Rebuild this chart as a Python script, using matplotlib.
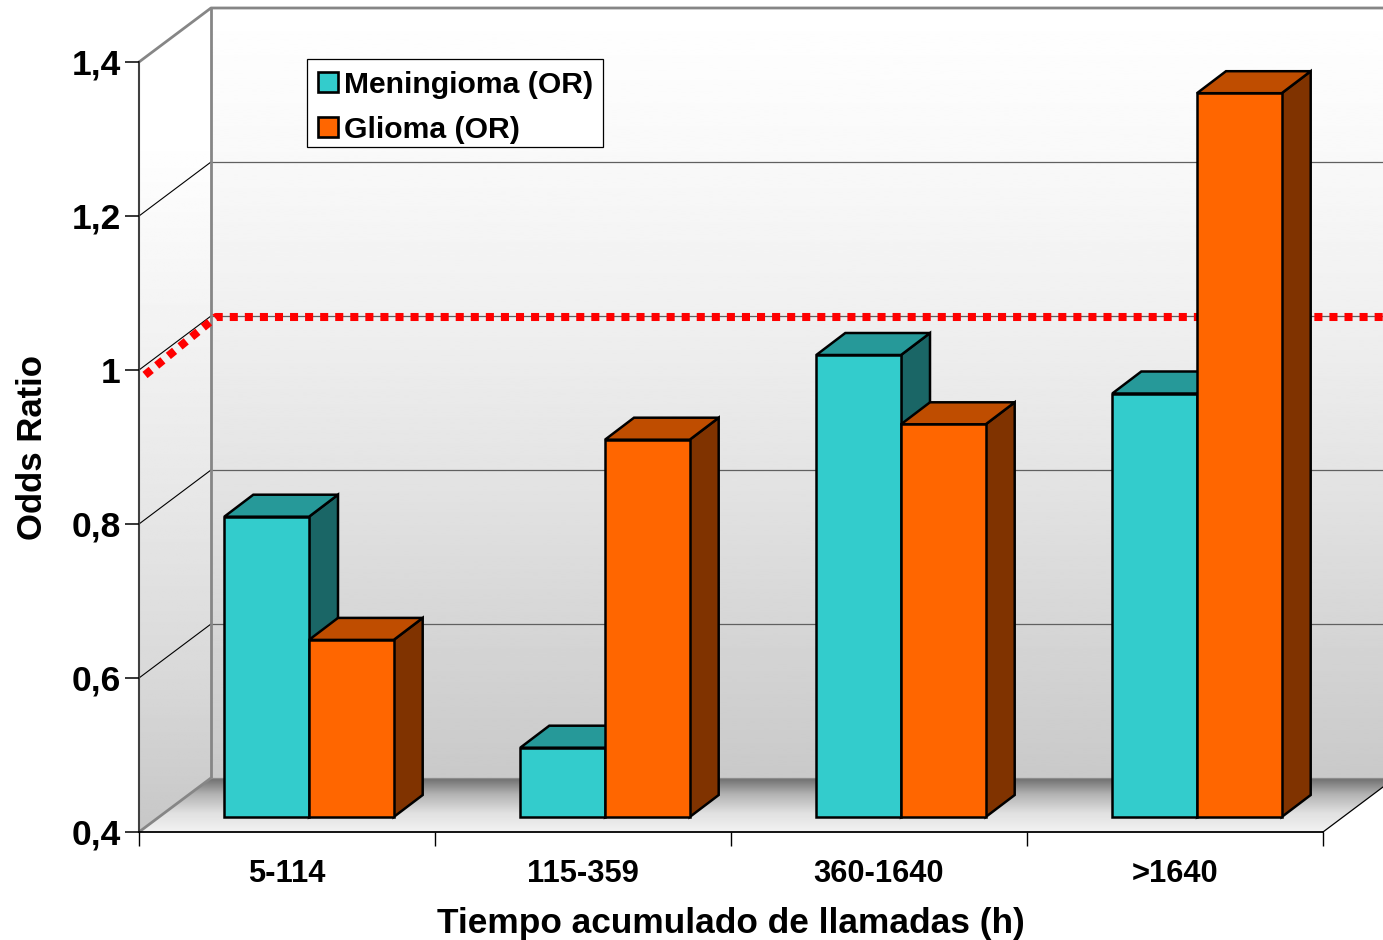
import numpy as np
import matplotlib
matplotlib.use("Agg")
import matplotlib.pyplot as plt
from matplotlib.patches import Polygon, Patch, Rectangle

categories = ["5-114", "115-359", "360-1640", ">1640"]
meningioma = [0.79, 0.49, 1.00, 0.95]
glioma = [0.63, 0.89, 0.91, 1.34]
y_ticks = [0.4, 0.6, 0.8, 1.0, 1.2, 1.4]
y_tick_labels = ["0,4", "0,6", "0,8", "1", "1,2", "1,4"]
reference_or = 1.0
series_names = ["Meningioma (OR)", "Glioma (OR)"]

plt.rcParams["font.family"] = ["Liberation Sans", "DejaVu Sans"]
plt.rcParams["font.weight"] = "bold"

W, H = 1383, 940
fig = plt.figure(figsize=(W / 100, H / 100), dpi=100, facecolor="white")
L, R, T, B = 139, 1323, 62, 832
ax = fig.add_axes([L / W, (H - B) / H, (R - L) / W, (B - T) / H])
PX = 4 / (R - L)            # data x per pixel
PY = 1.0 / (B - T)          # data y per pixel
DX, DY = 72 * PX, 54 * PY   # full depth of the box
y0, y1 = 0.4, 1.4
xr = 4


def gradient(x0, x1, ya, yb, stops_y, stops_v, poly, z):
    ys = np.linspace(yb, ya, 300)
    vals = np.interp(ys, stops_y, stops_v).reshape(-1, 1)
    im = ax.imshow(vals, extent=(x0, x1, ya, yb), origin="upper", aspect="auto",
                   cmap="gray", vmin=0, vmax=1, zorder=z,
                   interpolation="bilinear")
    im.set_clip_box(fig.bbox)
    im.set_clip_path(Polygon(poly, closed=True, transform=ax.transData))


# wall shading (levels of grey by height)
wall_y = [y0 + DY, 0.6 + DY, 0.8 + DY, 1.0 + DY, 1.2 + DY, 1.4 + DY]
wall_v = [0.79, 0.84, 0.895, 0.94, 0.975, 1.0]
gradient(DX, xr + DX, y0 + DY, y1 + DY, wall_y, wall_v,
         [(DX, y0 + DY), (xr + DX, y0 + DY), (xr + DX, y1 + DY), (DX, y1 + DY)], 0.5)
side_y = [y0, 0.6, 0.8, 1.0, 1.2, 1.3, y1 + DY]
side_v = [0.78, 0.85, 0.90, 0.94, 0.98, 1.0, 1.0]
gradient(0, DX, y0, y1 + DY, side_y, side_v,
         [(0, y0), (DX, y0 + DY), (DX, y1 + DY), (0, y1)], 0.5)
floor_y = [y0, y0 + DY * 0.35, y0 + DY * 0.7, y0 + DY]
floor_v = [0.95, 0.88, 0.70, 0.43]
gradient(0, xr + DX, y0, y0 + DY, floor_y, floor_v,
         [(0, y0), (xr, y0), (xr + DX, y0 + DY), (DX, y0 + DY)], 0.6)

# grid on walls
for t in y_ticks[1:-1]:
    ax.plot([DX, xr + DX], [t + DY, t + DY], color="#606060", lw=0.9, zorder=1, clip_on=False)
    ax.plot([0, DX], [t, t + DY], color="black", lw=0.8, zorder=1, clip_on=False)
# box edges
edge = dict(color="#868686", lw=2.0, zorder=1.2, clip_on=False, solid_capstyle="butt")
ax.plot([0, DX, xr + DX], [y1, y1 + DY, y1 + DY], **edge)
ax.plot([DX, DX], [y0 + DY, y1 + DY], **edge)
ax.plot([0, DX], [y0, y0 + DY], **edge)
ax.plot([DX, xr + DX], [y0 + DY, y0 + DY], color="#8c8c8c", lw=0.9, zorder=1.2, clip_on=False)
ax.plot([xr, xr + DX], [y0, y0 + DY], color="black", lw=0.9, zorder=1.2, clip_on=False)

# reference line at OR = 1
ax.plot([6 * PX, DX + 5 * PX, xr + DX],
        [reference_or - 5 * PY, reference_or + DY - 1 * PY, reference_or + DY - 1 * PY],
        color="#ff0000", lw=5.8, linestyle=(0, (1, 0.87)), dash_capstyle="butt",
        zorder=2, clip_on=False)

# bars
BW = 84.7 * PX
SX = 22 * PX       # offset of the front of the bars
SY = 15 * PY
BDX, BDY = 29 * PX, 22 * PY
styles = [("#33CCCC", "#269999", "#1A6666"), ("#FF6600", "#BF4D00", "#803300")]
LW = 1.8
for i in range(len(categories)):
    for s, vals in enumerate([meningioma, glioma]):
        front, top, side = styles[s]
        z = 3 + i + s * 0.5
        xl = i + 0.5 + SX - BW + s * BW
        yb = y0 + SY
        yt = vals[i] + SY
        ax.fill([xl + BW, xl + BW + BDX, xl + BW + BDX, xl + BW],
                [yb, yb + BDY, yt + BDY, yt], facecolor=side, edgecolor="black",
                lw=LW, zorder=z, clip_on=False, joinstyle="miter")
        ax.fill([xl, xl + BDX, xl + BW + BDX, xl + BW],
                [yt, yt + BDY, yt + BDY, yt], facecolor=top, edgecolor="black",
                lw=LW, zorder=z, clip_on=False, joinstyle="miter")
        ax.bar(xl, vals[i] - y0, bottom=yb, width=BW, align="edge", color=front,
               edgecolor="black", linewidth=LW, zorder=z + 0.1, clip_on=False)

ax.set_xlim(0, xr)
ax.set_ylim(y0, y1)
ax.patch.set_visible(False)
for sp in ["top", "right"]:
    ax.spines[sp].set_visible(False)
ax.spines["left"].set_color("#404040")
ax.spines["left"].set_linewidth(1.5)
ax.spines["bottom"].set_linewidth(1.3)
ax.spines["left"].set_zorder(1.3)
ax.spines["bottom"].set_zorder(1.3)

ax.set_yticks(y_ticks)
ax.set_yticklabels(y_tick_labels, fontsize=25.5, fontweight="bold")
ax.tick_params(axis="y", length=10, width=1.1, pad=3)
ax.set_xticks(range(len(categories) + 1))
ax.set_xticklabels([])
ax.set_xticks(np.arange(len(categories)) + 0.5, minor=True)
ax.set_xticklabels(categories, minor=True, fontsize=22.2, fontweight="bold")
ax.tick_params(axis="x", which="major", length=10, width=1.0)
ax.tick_params(axis="x", which="minor", length=0, pad=19.5)

ax.set_xlabel("Tiempo acumulado de llamadas (h)", fontsize=25.4, fontweight="bold", va="center")
ax.xaxis.set_label_coords(0.5, -(923 - B) / (B - T))
ax.set_ylabel("Odds Ratio", fontsize=25, fontweight="bold", va="center")
ax.yaxis.set_label_coords(-(L - 33) / (R - L), 0.5)

# legend frame
ax.add_patch(Rectangle((307 / W, (H - 147) / H), (603 - 307) / W, (147 - 59) / H,
                       transform=fig.transFigure, facecolor="white", edgecolor="black",
                       lw=0.9, zorder=19, clip_on=False))
handles = [Patch(facecolor=styles[k][0], edgecolor="black", linewidth=1.9) for k in range(2)]
leg = ax.legend(handles, series_names, loc="upper left",
                bbox_to_anchor=((308 - L) / (R - L), 1 - (61 - T) / (B - T)),
                fontsize=21.7, frameon=False, borderpad=0.32, borderaxespad=0,
                handlelength=0.66, handleheight=0.66, handletextpad=0.2, labelspacing=0.57)
leg.set_zorder(20)

fig.savefig("out.png", dpi=100, facecolor="white")
